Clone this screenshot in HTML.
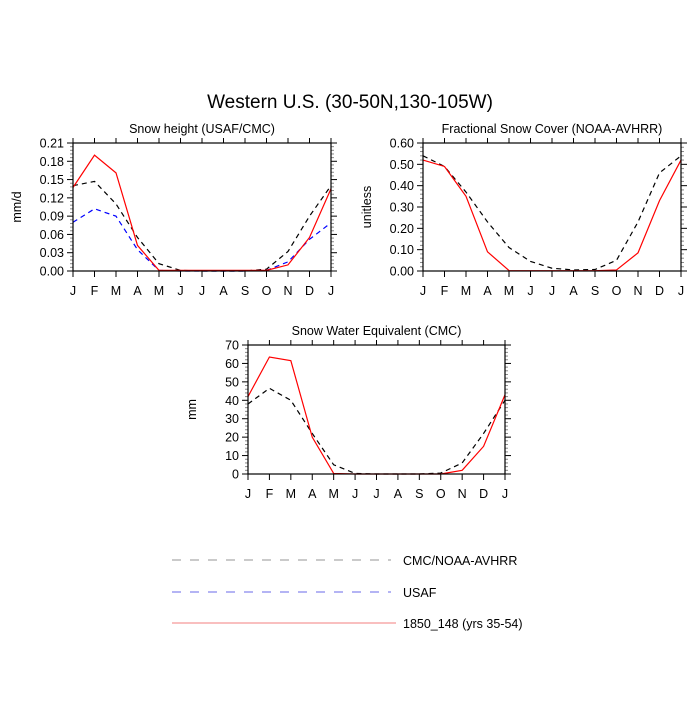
<!DOCTYPE html>
<html><head><meta charset="utf-8"><style>
body{margin:0;background:#fff;}
svg text{font-family:"Liberation Sans",sans-serif;fill:#000;}
</style></head><body>
<svg id="chart" width="700" height="700" xmlns="http://www.w3.org/2000/svg">
<text x="350" y="108" font-size="19" text-anchor="middle">Western U.S. (30-50N,130-105W)</text>
<g>
<line x1="172" y1="560" x2="391" y2="560" stroke="#aaa" stroke-width="1.2" stroke-dasharray="9,9"/>
<text x="403" y="565" font-size="12.5">CMC/NOAA-AVHRR</text>
<line x1="172" y1="592" x2="391" y2="592" stroke="#8888ee" stroke-width="1.2" stroke-dasharray="9,9"/>
<text x="403" y="597" font-size="12.5">USAF</text>
<line x1="172" y1="623" x2="396" y2="623" stroke="#f7aaaa" stroke-width="1.5"/>
<text x="403" y="628" font-size="12.5">1850_148 (yrs 35-54)</text>
</g>
</svg>
<script>
const months = ["J","F","M","A","M","J","J","A","S","O","N","D","J"];
const heightCMC = [0.140,0.147,0.110,0.055,0.012,0.001,0,0,0,0.003,0.032,0.090,0.140];
const heightUSAF = [0.080,0.102,0.090,0.035,0.001,0,0,0,0,0.001,0.015,0.052,0.079];
const heightModel = [0.137,0.190,0.161,0.042,0.001,0.001,0.001,0.001,0.001,0.001,0.010,0.055,0.135];
const heightTicks = ["0.00","0.03","0.06","0.09","0.12","0.15","0.18","0.21"];
const fscAVHRR = [0.54,0.49,0.37,0.23,0.11,0.045,0.013,0.005,0.007,0.050,0.230,0.460,0.54];
const fscModel = [0.52,0.49,0.35,0.09,0.002,0.001,0.001,0.001,0.001,0.005,0.085,0.330,0.52];
const fscTicks = ["0.00","0.10","0.20","0.30","0.40","0.50","0.60"];
const sweCMC = [38,46.5,40,22,5,0.3,0,0,0,0.5,6,22,40];
const sweModel = [42,63.5,61.5,20,0.3,0,0,0,0,0,2,15,43];
const sweTicks = ["0","10","20","30","40","50","60","70"];

const NS="http://www.w3.org/2000/svg";
const svg=document.getElementById('chart');
function mk(tag,attrs,parent){const e=document.createElementNS(NS,tag);for(const k in attrs)e.setAttribute(k,attrs[k]);(parent||svg).appendChild(e);return e;}

function panel(key,x0,y0,w,h,title,ylab,ticks,series){
  const g=mk('g',{});
  
  
  const ymax=parseFloat(ticks[ticks.length-1]);
  const xs=i=>x0+i*w/(months.length-1);
  const ys=v=>y0+h-v/ymax*h;
  const t=mk('text',{x:x0+w/2,y:y0-10,'font-size':12.5,'text-anchor':'middle'},g);t.textContent=title;
  
  
  const yl=mk('text',{x:0,y:0,'font-size':12.5,'text-anchor':'middle',transform:`translate(${x0-52},${y0+h/2}) rotate(-90)`},g);yl.textContent=ylab;
  
  
  const n=ticks.length-1;
  for(let i=0;i<n*5;i++){const y=y0+h-i*h/(n*5);if(i%5==0)continue;
    mk('line',{x1:x0-3,x2:x0,y1:y,y2:y,stroke:'#888','stroke-width':1},g);
    mk('line',{x1:x0+w,x2:x0+w+3,y1:y,y2:y,stroke:'#888','stroke-width':1},g);}
  ticks.forEach((tk,i)=>{const y=ys(parseFloat(tk));
    mk('line',{x1:x0-6,x2:x0,y1:y,y2:y,stroke:'#000','stroke-width':1},g);
    mk('line',{x1:x0+w,x2:x0+w+6,y1:y,y2:y,stroke:'#000','stroke-width':1},g);
    const tl=mk('text',{x:x0-9,y:y+4.5,'font-size':12.5,'text-anchor':'end'},g);tl.textContent=tk;
    
    
  });
  months.forEach((m,i)=>{const x=xs(i);
    mk('line',{x1:x,x2:x,y1:y0+h,y2:y0+h+6,stroke:'#000','stroke-width':1},g);
    mk('line',{x1:x,x2:x,y1:y0-5,y2:y0,stroke:'#000','stroke-width':1},g);
    const tl=mk('text',{x:x,y:y0+h+24,'font-size':12.5,'text-anchor':'middle'},g);tl.textContent=m;
    
    
  });
  series.forEach(s=>{
    const p=mk('polyline',{points:s.data.map((v,i)=>xs(i)+','+ys(v)).join(' '),fill:'none',stroke:s.color,'stroke-width':1.2,'stroke-dasharray':s.dash||'none'},g);
    
    
  });
  const r=mk('rect',{x:x0,y:y0,width:w,height:h,fill:'none',stroke:'#000','stroke-width':1.2},g);
  
  
}
panel('snow-height',73,143,258,128,'Snow height (USAF/CMC)','mm/d',heightTicks,[
 {name:'cmc',data:heightCMC,color:'#000',dash:'5,4'},
 {name:'usaf',data:heightUSAF,color:'#0000ff',dash:'5,4'},
 {name:'model',data:heightModel,color:'#ff0000'}]);
panel('snow-cover',423,143,258,128,'Fractional Snow Cover (NOAA-AVHRR)','unitless',fscTicks,[
 {name:'avhrr',data:fscAVHRR,color:'#000',dash:'5,4'},
 {name:'model',data:fscModel,color:'#ff0000'}]);
panel('swe',248,345,257,129,'Snow Water Equivalent (CMC)','mm',sweTicks,[
 {name:'cmc',data:sweCMC,color:'#000',dash:'5,4'},
 {name:'model',data:sweModel,color:'#ff0000'}]);
</script>
</body></html>
